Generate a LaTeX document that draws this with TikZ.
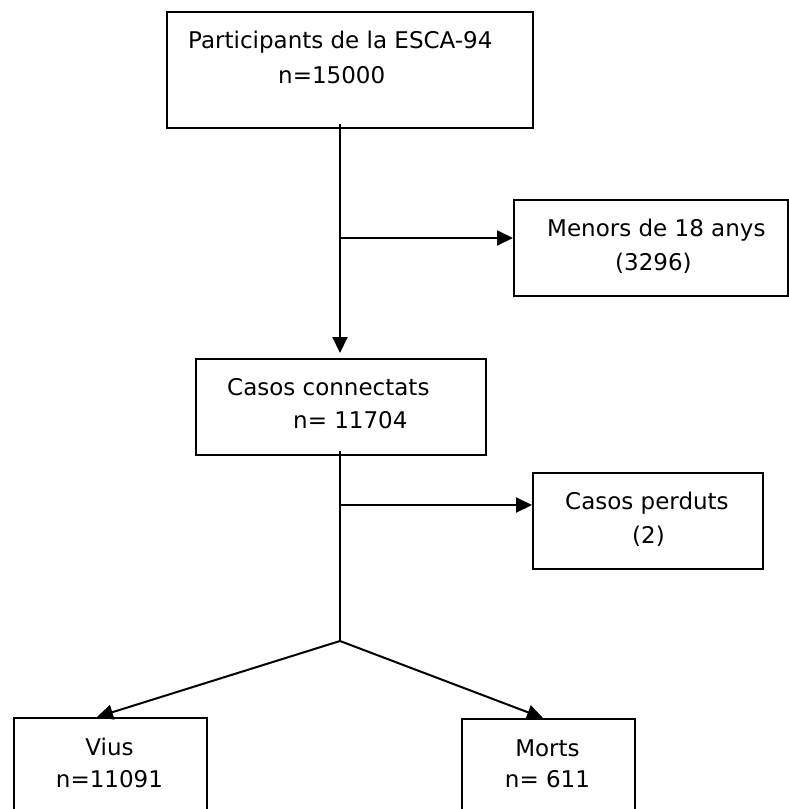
\documentclass[tikz,border=0pt]{standalone}
\usepackage{fontspec}
\setmainfont{DejaVu Sans}
\usetikzlibrary{arrows.meta}
\begin{document}
\begin{tikzpicture}[x=1pt,y=-1pt,
  box/.style={draw=black, line width=2pt, rectangle, inner sep=0pt, anchor=north west},
  txt/.style={inner sep=0pt, anchor=base west, font=\fontsize{23}{28}\selectfont},
  link/.style={line width=2pt},
  arr/.style={line width=2pt, -{Triangle[length=16pt,width=15pt]}}]
\clip (0,0) rectangle (789,809);
\fill[white] (0,0) rectangle (789,809);
% boxes
\node[box, minimum width=366pt, minimum height=116pt] (b1) at (166,11) {};
\node[box, minimum width=274pt, minimum height=96pt] (b2) at (513,199) {};
\node[box, minimum width=290pt, minimum height=96pt] (b3) at (195,358) {};
\node[box, minimum width=230pt, minimum height=96pt] (b4) at (532,472) {};
\node[box, minimum width=193pt, minimum height=110pt] (b5) at (13,717) {};
\node[box, minimum width=173pt, minimum height=110pt] (b6) at (461,718) {};
% texts
\node[txt] (t1a) at (188,48) {Participants de la ESCA-94};
\node[txt] (t1b) at (278,83) {n=15000};
\node[txt] (t2a) at (547,236) {Menors de 18 anys};
\node[txt] (t2b) at (615,270) {(3296)};
\node[txt] (t3a) at (227,395) {Casos connectats};
\node[txt] (t3b) at (293,428) {n= 11704};
\node[txt] (t4a) at (565,509) {Casos perduts};
\node[txt] (t4b) at (632,543) {(2)};
\node[txt, anchor=base] (t5a) at (109.5,755) {Vius};
\node[txt, anchor=base] (t5b) at (109.5,787) {n=11091};
\node[txt, anchor=base] (t6a) at (547.5,756) {Morts};
\node[txt, anchor=base] (t6b) at (547.5,787) {n= 611};
% junctions
\coordinate (j1) at (340,238);
\coordinate (j2) at (340,505);
\coordinate (j3) at (340,641);
\coordinate (e5) at (97,717);
\coordinate (e6) at (543,718);
% connectors
\draw[arr, shorten >=5pt] ([yshift=5pt]j1 |- b1.south) -- (j1 |- b3.north);
\draw[arr] (j1) -- (j1 -| b2.west);
\draw[link] ([yshift=5pt]j2 |- b3.south) -- (j3);
\draw[arr] (j2) -- (j2 -| b4.west);
\draw[arr] (j3) -- (e5);
\draw[arr] (j3) -- (e6);
\end{tikzpicture}
\end{document}
